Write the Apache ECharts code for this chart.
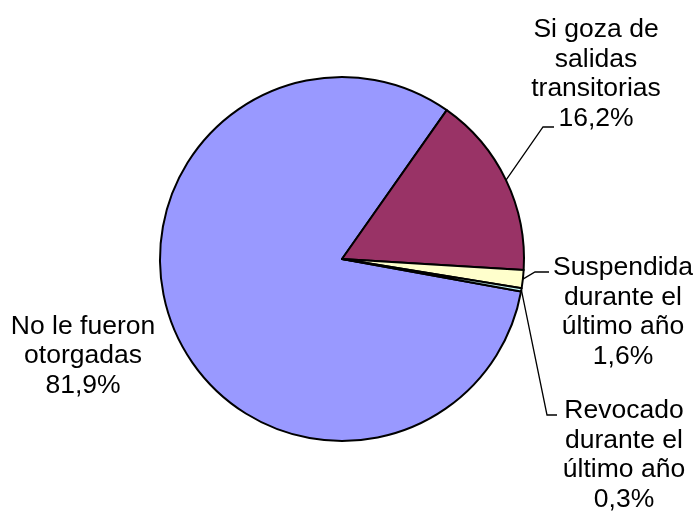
<!DOCTYPE html>
<html>
<head>
<meta charset="utf-8">
<script src="https://cdn.jsdelivr.net/npm/echarts@6/dist/echarts.min.js"></script>
<style>
html,body{margin:0;padding:0;background:#fff;}
#chart{width:697px;height:513px;}
</style>
</head>
<body>
<div id="chart"></div>
<script>
// Data
const categories = ['No le fueron\notorgadas', 'Si goza de\nsalidas\ntransitorias', 'Suspendida\ndurante el\núltimo año', 'Revocado\ndurante el\núltimo año'];
const values = [81.9, 16.2, 1.6, 0.3];
const colors = ['#9999FF', '#993366', '#FFFFCC', '#CCFFFF'];

// Layout (label centres and leader-line attach offsets)
const labelCenters = [[83, 356], [596, 74], [623, 312], [624, 455]];
const leaderEnds = [null, [-42, 53, 11], [-74, -40, 14], [-67, -40, 10]];

const CX = 342, CY = 259, R = 182, START = -10.3;
const total = values.reduce((a, b) => a + b, 0);

function edgePoint(i) {
  let acc = 0;
  for (let k = 0; k < i; k++) acc += values[k];
  const midFrac = (acc + values[i] / 2) / total;
  const ang = (START - midFrac * 360) * Math.PI / 180;
  return [CX + R * Math.cos(ang), CY - R * Math.sin(ang)];
}

const chart = echarts.init(document.getElementById('chart'), null, {renderer: 'canvas'});
chart.setOption({
  animation: false,
  backgroundColor: '#ffffff',
  series: [{
    type: 'pie',
    center: [CX, CY],
    radius: R,
    startAngle: START,
    clockwise: true,
    avoidLabelOverlap: false,
    emphasis: {disabled: true},
    itemStyle: {borderColor: '#000', borderWidth: 2},
    label: {
      show: true,
      position: 'outside',
      color: '#000',
      fontFamily: 'Liberation Sans, Arial, sans-serif',
      fontSize: 26.5,
      lineHeight: 29.5,
      align: 'center',
      formatter: p => p.name + '\n' + p.value.toFixed(1).replace('.', ',') + '%'
    },
    labelLine: {show: true, lineStyle: {color: '#000', width: 1.3}},
    labelLayout: function (params) {
      const i = params.dataIndex;
      const c = labelCenters[i];
      const out = {x: c[0], y: c[1], align: 'center', verticalAlign: 'middle'};
      const le = leaderEnds[i];
      if (le) {
        const start = (params.labelLinePoints && params.labelLinePoints[0]) || edgePoint(i);
        const end = [c[0] + le[0], c[1] + le[1]];
        out.labelLinePoints = [start, [end[0] - le[2], end[1]], end];
      }
      return out;
    },
    data: categories.map((n, i) => ({
      name: n,
      value: values[i],
      itemStyle: {color: colors[i]},
      labelLine: {show: i !== 0}
    }))
  }]
});
</script>
</body>
</html>
